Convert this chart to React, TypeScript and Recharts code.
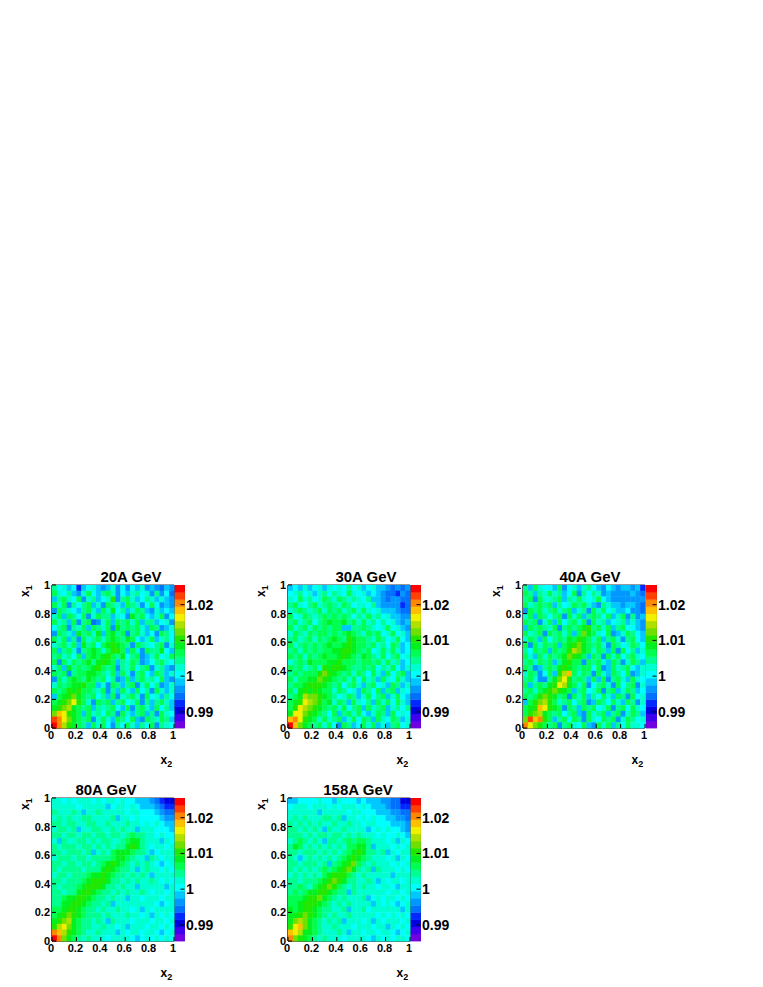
import { ScatterChart, Scatter, XAxis, YAxis, ReferenceArea } from 'recharts';

// Ratio maps on a 25x25 grid (the original bins are finer).
// One character per cell: the colour-bar bin (0-9, a-j). Top row is x1 near 1, left column is x2 near 0.
const map20A = [
  '97867 36786 56857 57685 65465', 'a8796 58a76 9a857 68978 59574', '69a87 a5896 78c59 a8679 86865',
  'a8a59 79a68 5a986 a9857 a7565', '5a987 69a86 a8b79 68a96 58676', '8a6a9 7a58a 99687 5b9a7 68a57',
  'a896a 59a45 8a6a9 a8a69 96785', '79a59 8a6a9 8a5b9 a9a86 a9568', '5a986 b9a8b 6ab9a 59a86 75a97',
  'a8a69 5a89a 8aba9 ba768 a6897', '89a8a 6b9a7 abcba 95a98 79a58', 'a69a8 59aba 8acca 6a85a 99b76',
  '9a897 a6aba bca9b 79a56 8a78a', 'a5a8a 9ab9b cba69 8a956 79a87', '8a6b9 a9abc a9a59 8a79a 58965',
  'a9a59 aabba 98a6a 859a7 6a968', '5a8ab a9ba9 a7956 a69a8 97a65', '8a9ab bcaa6 85a96 9a58a 79568',
  'a9acb caa98 a596a 86a79 5a868', '6abcd ba9a7 96a58 9a85a 78697', 'abcdf ca85a 9a69a 78a59 69a86',
  'bcdeb a9a69 89a76 a59a8 6a796', 'dgfcb a6a89 7a95a 869a6 95a87', 'ihfdb a9a58 a86a9 7a65a 98a96',
  'jhecb a96a8 a7597 a8697 a5987',
];
const map30A = [
  '67686 78687 87978 67866 54545', '78978 68979 87a87 86765 44354', '87a89 78a98 a9898 79665 45544',
  '9a879 a89a9 8a978 87965 55534', '89a98 9a8a9 a89a8 a8786 66544', 'a78a9 89a9a 9a979 8a897 86655',
  '9a89a 79aba ab9a8 a8979 78656', 'a89a8 a9a9a a6699 a9878 a7865', '8a98a 9aa9a 9aba9 8a9a7 8a786',
  '9a89a 8a9ab a9cba a98a9 78a76', 'a89a9 a9aba abcba a9a89 7a967', '9a8a9 a9aab bccba 9a78a 8a867',
  'a9a8a 9abaa bcba9 ba98a 79a78', '89a9b aaabb caaa9 aa9a8 a8967', 'a9a89 a8cbc cba99 a9a79 8a768',
  '9a9aa acdcb a9a8a 97a86 a79a6', 'a8aab bdcba 9a8a7 a896a 87a86', '9aabc ccba9 a79a8 69a78 6a968',
  'a8bcb cbaa8 a9786 a97a6 9a687', '9abed dcba9 78a96 8a79a 68a76', 'abcfe dcab8 a96a8 796a8 a7a86',
  'acfed cba9a 8a79a 6a89a 68979', 'bffdc ba97a 69a8a 768a9 6a787', 'ghfcb a8a89 a68a7 a96a8 7a968',
  'jgdba 9a8a7 5a967 a8a68 69a78',
];
const map40A = [
  '96a87 76a57 86897 65765 66563', 'a9698 a8967 a5979 85655 55654', '9a5a8 89a69 8a878 a7655 55555',
  'a89a9 a6978 a9a86 59866 56654', '5a9a8 9a89a 6895a 8a786 67554', '8a6a9 79a5a 8a69a 97a68 a5956',
  'a9a58 a6a79 a8a5a 89678 96865', '6a9a9 8a59a 9abc9 a8a69 a7765', 'a89a5 a9a8a 6adba 87a56 8a976',
  '8a96a 79a9b acba8 a69a8 59a76', 'a5a8a 9a6ab cdba9 a85a9 78a97', '97a9a 6a9ac edba8 a96a5 a7968',
  'a86a8 a9abd cba6a 95a8a 79a87', '9a8a9 a69bc aa5a9 a86a9 58a96', 'a9569 a9bcb a9aa7 a56a8 9a768',
  '8a957 a6ceg a8a95 a86a9 7a568', '9a855 9bdfc 9a96a 6a59a 86a87', 'a69a9 bcfeb a8a57 9a85a 79a58',
  '9a8ab cdcba 69a78 a59a6 8a967', 'a9acd cb9a5 a8a69 7a86a 95a78', '6acde ca89a 79a56 a97a8 6a958',
  'abcgf cba5a 96a9a 78a59 a7a87', 'acdeb a9a79 a65a8 9a69a 58a96', 'dighc a69a7 a95a8 7a9a5 8a978',
  'hfdca 9a59a 87a65 a8a69 7a887',
];
const map80A = [
  '88787 88878 78878 77666 54322', '88888 78888 86788 78766 65433', '98889 86889 88888 78877 76544',
  '89898 89988 88968 87877 77655', '99899 88998 89888 98878 78766', '89989 68899 88989 88688 87776',
  '99899 89989 98998 9a998 87877', '86988 99898 99889 abb98 88687', '98999 89989 89899 bcb98 78878',
  '99899 98968 98abb ba998 67888', '89998 99899 99abb a9886 98788', '99899 89989 abcba 98989 87678',
  '98999 98999 bcba9 98689 88787', '89989 99abb cba99 89898 68888', '99899 9abcc cb998 98988 98787',
  '98999 abccc b9989 88688 88868', '99899 bccba 99898 98898 78878', '99abb ccba9 98988 68878 88788',
  '99bbc cba99 89688 88888 87678', 'aabcc ba998 98898 87868 78888', 'abcdc ba999 89888 98878 68787',
  'bcdeb a9989 86988 87888 78878', 'cefdb a9988 98878 68887 88787', 'hgecb a9889 88868 78878 87678',
  'jhdba 98988 87888 87678 78787',
];
const map158A = [
  '66777 78776 87776 76665 54422', '78887 88878 78887 87666 54433', '88888 86888 88788 77766 65544',
  '89898 88998 96887 87877 66554', '98989 89889 88988 78877 76665', '99898 98698 89888 86787 87765',
  '99989 89989 98989 88878 77876', '89a98 98699 89a9a a9888 78687', '9ba89 89898 98aab b9688 87878',
  '99899 98989 89abc b9989 68788', '98689 89898 9abcb a9888 78687', '99899 98969 abcda 98988 87878',
  '98989 89a9a bcdb9 89698 88787', '89898 98abc cca98 98888 86888', '99899 9abcd cb998 89868 78878',
  '99a98 abcdc a9898 98878 87688', '9a9ab bccba 99698 88888 78878', 'aaabc cdba9 89888 96787 88787',
  'aabcc cba98 98988 88687 87678', 'babcc ba998 89688 97888 88868', 'bbcdc ba989 88988 88878 78787',
  'bdedb a9898 96888 78687 88878', 'cfgdb a9889 88878 88788 68787', 'gfebb a9888 98688 78878 87678',
  'hdcba 98988 87888 87687 87887',
];

const axisTicks = [0, 0.2, 0.4, 0.6, 0.8, 1];
const barTicks = [0.99, 1, 1.01, 1.02];
const zMin = 0.9855;
const zStep = 0.002;
const palette = [
  '#7000e0', '#4000f0', '#0000e0', '#0028ff', '#0070ff', '#0098ff', '#00c8ff', '#00ffff', '#00ffd0', '#00ff90',
  '#00ff50', '#00f020', '#20e800', '#70e000', '#b0e000', '#f0f000', '#ffc000', '#ff8800', '#ff4000', '#ff0000',
];

const panels = [
  { title: '20A GeV', rows: map20A, left: 51.5, top: 584.5, barGap: 0.5, titleX: 131 },
  { title: '30A GeV', rows: map30A, left: 287.5, top: 584.5, barGap: 0.5, titleX: 366 },
  { title: '40A GeV', rows: map40A, left: 522.5, top: 584.5, barGap: 1, titleX: 590 },
  { title: '80A GeV', rows: map80A, left: 51.5, top: 798, barGap: 0.5, titleX: 106 },
  { title: '158A GeV', rows: map158A, left: 287.5, top: 798, barGap: 0.5, titleX: 358 },
];

const PLOT_W = 122;
const PLOT_H = 143;
const BAR_W = 10.5;
const FONT = '"Liberation Sans", Arial, sans-serif';
const BINS = '0123456789abcdefghij';

function toCells(rows: string[]) {
  const cells: { x2: number; x1: number; z: number; bin: number }[] = [];
  rows.forEach((row, r) => {
    const chars = row.replace(/ /g, '');
    for (let c = 0; c < chars.length; c++) {
      const bin = BINS.indexOf(chars[c]);
      cells.push({ x2: (c + 0.5) / chars.length, x1: 1 - (r + 0.5) / rows.length, z: zMin + zStep * (bin + 0.5), bin });
    }
  });
  return cells;
}

const barCells = palette.map((_, bin) => ({ x: 0.5, z: zMin + zStep * (bin + 0.5), bin }));

const tileShape = (w: number, h: number) => (props: any) => (
  <rect
    x={props.cx - w / 2}
    y={props.cy - h / 2}
    width={w + 0.4}
    height={h + 0.4}
    fill={palette[props.payload.bin]}
    stroke="none"
  />
);

const label = (v: number) => String(v);

function XTick({ x, y, payload }: any) {
  return (
    <g>
      <line x1={x} x2={x} y1={y} y2={y - 4} stroke="#000" />
      <text x={x - 1} y={y + 11} textAnchor="middle" fontSize={11} fontWeight="bold" fontFamily={FONT} fill="#000">
        {label(payload.value)}
      </text>
    </g>
  );
}

function YTick({ x, y, payload }: any) {
  return (
    <g>
      <line x1={x} x2={x + 4} y1={y} y2={y} stroke="#000" />
      <text x={x - 2} y={y + 4} textAnchor="end" fontSize={11} fontWeight="bold" fontFamily={FONT} fill="#000">
        {label(payload.value)}
      </text>
    </g>
  );
}

function BarTick({ x, y, payload }: any) {
  return (
    <g>
      <line x1={x - 4} x2={x} y1={y} y2={y} stroke="#000" />
      <text x={x + 1.5} y={y + 5} fontSize={14} fontWeight="bold" fontFamily={FONT} fill="#000">
        {label(payload.value)}
      </text>
    </g>
  );
}

function Panel({ title, rows, left, top, barGap, titleX }: (typeof panels)[number]) {
  const cells = toCells(rows);
  const textStyle = { position: 'absolute', fontFamily: FONT, fontWeight: 'bold', color: '#000', whiteSpace: 'nowrap' } as const;
  return (
    <>
      <div style={{ ...textStyle, left: titleX - 60, width: 120, top: top - 17, fontSize: 15, lineHeight: '17px', textAlign: 'center' }}>
        {title}
      </div>
      <div style={{ ...textStyle, left: left + 109, top: top + 168, fontSize: 12, lineHeight: '14px' }}>
        x<span style={{ fontSize: 9, position: 'relative', top: 3 }}>2</span>
      </div>
      <div
        style={{
          ...textStyle,
          left: left - 32,
          top: top + 1,
          fontSize: 12,
          lineHeight: '14px',
          transform: 'rotate(-90deg)',
          transformOrigin: '0 0',
          translate: '-2px 11px',
        }}
      >
        x<span style={{ fontSize: 9, position: 'relative', top: 3 }}>1</span>
      </div>
      <div style={{ position: 'absolute', left: left + PLOT_W + barGap, top: top - 6 }}>
        <ScatterChart width={BAR_W + 40} height={6 + PLOT_H + 20} margin={{ top: 6, right: 0, bottom: 20, left: 0 }}>
          <XAxis type="number" dataKey="x" domain={[0, 1]} hide />
          <YAxis
            type="number"
            dataKey="z"
            orientation="right"
            domain={[zMin, zMin + zStep * palette.length]}
            ticks={barTicks}
            interval={0}
            width={40}
            tickLine={false}
            tickSize={0}
            tickMargin={0}
            axisLine={{ stroke: '#444' }}
            tick={BarTick}
          />
          <Scatter data={barCells} isAnimationActive={false} shape={tileShape(BAR_W, PLOT_H / palette.length)} />
        </ScatterChart>
      </div>
      <div style={{ position: 'absolute', left: left - 36, top: top - 6 }}>
        <ScatterChart width={36 + PLOT_W + 8} height={6 + PLOT_H + 20} margin={{ top: 6, right: 8, bottom: 0, left: 0 }}>
          <XAxis
            type="number"
            dataKey="x2"
            domain={[0, 1]}
            ticks={axisTicks}
            interval={0}
            height={20}
            tickLine={false}
            tickSize={0}
            tickMargin={0}
            axisLine={{ stroke: '#222' }}
            tick={XTick}
          />
          <YAxis
            type="number"
            dataKey="x1"
            domain={[0, 1]}
            ticks={axisTicks}
            interval={0}
            width={36}
            tickLine={false}
            tickSize={0}
            tickMargin={0}
            axisLine={{ stroke: '#222' }}
            tick={YTick}
          />
          <Scatter data={cells} isAnimationActive={false} shape={tileShape(PLOT_W / 25, PLOT_H / 25)} />
          <ReferenceArea x1={0} x2={1} y1={0} y2={1} fill="none" stroke="#333" strokeWidth={1} />
        </ScatterChart>
      </div>
    </>
  );
}

export default function App() {
  return (
    <div style={{ position: 'absolute', left: 0, top: 0, width: 763, height: 987, background: '#fff', overflow: 'hidden' }}>
      {panels.map(p => (
        <Panel key={p.title} {...p} />
      ))}
    </div>
  );
}
